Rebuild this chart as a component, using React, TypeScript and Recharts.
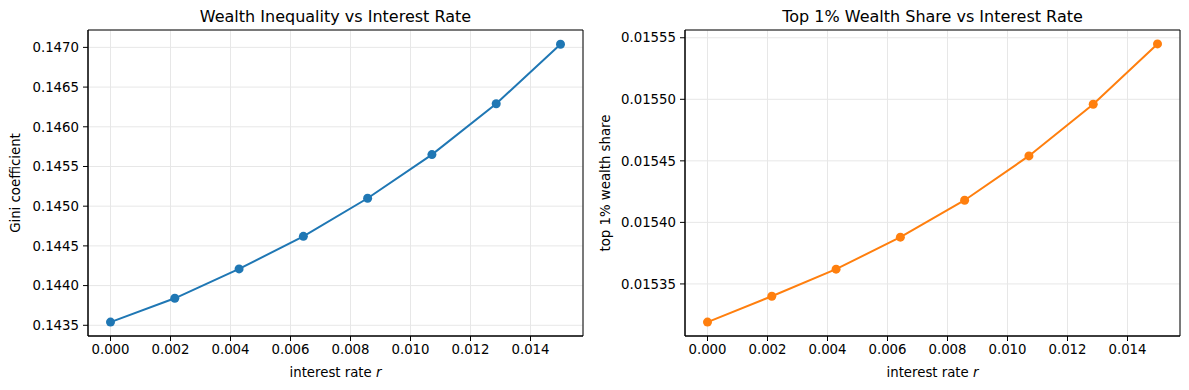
import React from 'react';
import { LineChart, Line, XAxis, YAxis, CartesianGrid, ReferenceArea } from 'recharts';

// interest rates (8 evenly spaced points from 0 to 0.015)
const rates = [0, 0.002143, 0.004286, 0.006429, 0.008571, 0.010714, 0.012857, 0.015];
const gini = [0.14354, 0.14384, 0.14421, 0.14462, 0.1451, 0.14565, 0.14629, 0.14704];
const top1Share = [0.015319, 0.01534, 0.015362, 0.015388, 0.015418, 0.015454, 0.015496, 0.015545];

const rateTicks = [0, 0.002, 0.004, 0.006, 0.008, 0.01, 0.012, 0.014];
const giniTicks = [0.1435, 0.144, 0.1445, 0.145, 0.1455, 0.146, 0.1465, 0.147];
const top1Ticks = [0.01535, 0.0154, 0.01545, 0.0155, 0.01555];

const rateDomain = [-0.00075, 0.01575];
const giniDomain = [0.143365, 0.147219];
const top1Domain = [0.0153077, 0.0155563];

const FONT = '"DejaVu Sans", sans-serif';
const tickStyle = { fontSize: 13.3, fill: '#000', fontFamily: FONT };

const giniData = rates.map((r, i) => ({ r, v: gini[i] }));
const top1Data = rates.map((r, i) => ({ r, v: top1Share[i] }));

interface PanelProps {
    data: { r: number; v: number }[];
    left: number;
    width: number;
    yAxisWidth: number;
    marginLeft: number;
    marginRight: number;
    yTicks: number[];
    yDomain: number[];
    yDigits: number;
    yLabel: string;
    yLabelX: number;
    title: string;
    color: string;
}

const Panel: React.FC<PanelProps> = ({ data, left, width, yAxisWidth, marginLeft, marginRight, yTicks, yDomain, yDigits, yLabel, yLabelX, title, color }) => {
    const plotLeft = marginLeft + yAxisWidth;
    const plotRight = width - marginRight;
    return (
        <div style={{ position: 'absolute', left, top: 0, width, height: 390 }}>
            <div style={{ position: 'absolute', left: plotLeft, width: plotRight - plotLeft, top: 8, textAlign: 'center', fontFamily: FONT, fontSize: 16, lineHeight: '18px', color: '#000' }}>
                {title}
            </div>
            <LineChart width={width} height={390} data={data} margin={{ top: 30, right: marginRight, bottom: 24, left: marginLeft }}>
                <CartesianGrid stroke="#e7e7e7" strokeWidth={1} />
                <XAxis
                    dataKey="r"
                    type="number"
                    domain={rateDomain}
                    allowDataOverflow
                    ticks={rateTicks}
                    tickFormatter={(v: number) => v.toFixed(3)}
                    tick={tickStyle}
                    tickSize={5}
                    tickMargin={4}
                    height={30}
                    axisLine={{ stroke: '#000', strokeWidth: 1 }}
                    tickLine={{ stroke: '#000' }}
                    label={(p: any) => {
                        const vb = p.viewBox || {};
                        return (
                            <text x={vb.x + vb.width / 2} y={372} textAnchor="middle" dominantBaseline="central" fontSize={13.3} fontFamily={FONT} fill="#000">
                                interest rate <tspan fontStyle="italic">r</tspan>
                            </text>
                        );
                    }}
                />
                <YAxis
                    type="number"
                    domain={yDomain}
                    allowDataOverflow
                    ticks={yTicks}
                    tickFormatter={(v: number) => v.toFixed(yDigits)}
                    tick={tickStyle}
                    tickSize={5}
                    tickMargin={4}
                    width={yAxisWidth}
                    axisLine={{ stroke: '#000', strokeWidth: 1 }}
                    tickLine={{ stroke: '#000' }}
                    label={(p: any) => {
                        const vb = p.viewBox || {};
                        const cy = vb.y + vb.height / 2;
                        return (
                            <text x={yLabelX} y={cy} transform={`rotate(-90 ${yLabelX} ${cy})`} textAnchor="middle" dominantBaseline="central" fontSize={13.3} fontFamily={FONT} fill="#000">
                                {yLabel}
                            </text>
                        );
                    }}
                />
                {/* axes frame */}
                <ReferenceArea
                    x1={rateDomain[0]}
                    x2={rateDomain[1]}
                    y1={yDomain[0]}
                    y2={yDomain[1]}
                    fill="none"
                    fillOpacity={0}
                    stroke="#000"
                    strokeWidth={1}
                    strokeOpacity={1}
                    ifOverflow="visible"
                />
                <Line
                    type="linear"
                    dataKey="v"
                    stroke={color}
                    strokeWidth={2}
                    dot={{ r: 4.5, fill: color, stroke: color, strokeWidth: 0 }}
                    activeDot={false}
                    isAnimationActive={false}
                />
            </LineChart>
        </div>
    );
};

export default function App() {
    return (
        <div style={{ position: 'absolute', left: 0, top: 0, width: 1189, height: 390, background: '#fff' }}>
            <Panel
                data={giniData}
                left={0}
                width={590}
                yAxisWidth={60}
                marginLeft={28}
                marginRight={7}
                yTicks={giniTicks}
                yDomain={giniDomain}
                yDigits={4}
                yLabel="Gini coefficient"
                yLabelX={15}
                title="Wealth Inequality vs Interest Rate"
                color="#1f77b4"
            />
            <Panel
                data={top1Data}
                left={590}
                width={599}
                yAxisWidth={70}
                marginLeft={25}
                marginRight={9}
                yTicks={top1Ticks}
                yDomain={top1Domain}
                yDigits={5}
                yLabel="top 1% wealth share"
                yLabelX={15}
                title="Top 1% Wealth Share vs Interest Rate"
                color="#ff7f0e"
            />
        </div>
    );
}
